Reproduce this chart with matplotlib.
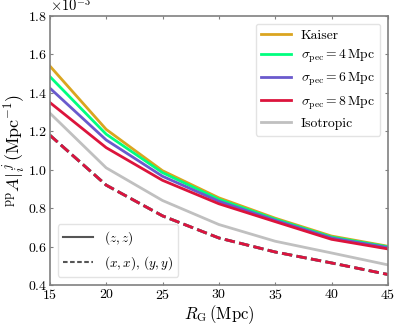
import matplotlib
matplotlib.use('Agg')
import matplotlib.pyplot as plt
from matplotlib.lines import Line2D

plt.rcParams['font.family'] = 'serif'
plt.rcParams['font.serif'] = ['cmr10']
plt.rcParams['mathtext.fontset'] = 'cm'
plt.rcParams['axes.formatter.use_mathtext'] = True
plt.rcParams['axes.unicode_minus'] = False

# Smoothing scale R_G (Mpc)
r_g = [15, 20, 25, 30, 35, 40, 45]

# (z,z) component, units of 1e-3 Mpc^-1
kaiser = [1.540, 1.210, 0.995, 0.854, 0.748, 0.655, 0.602]
sig4 = [1.485, 1.185, 0.985, 0.846, 0.743, 0.650, 0.599]
sig6 = [1.425, 1.155, 0.966, 0.836, 0.737, 0.645, 0.595]
sig8 = [1.350, 1.115, 0.945, 0.823, 0.730, 0.638, 0.588]
isotropic = [1.295, 1.010, 0.840, 0.715, 0.628, 0.567, 0.505]

# (x,x), (y,y) components
transverse = [1.180, 0.920, 0.760, 0.645, 0.572, 0.515, 0.455]

labels = ['Kaiser', r'$\sigma_{\rm pec} = 4\,\mathrm{Mpc}$', r'$\sigma_{\rm pec} = 6\,\mathrm{Mpc}$',
          r'$\sigma_{\rm pec} = 8\,\mathrm{Mpc}$', 'Isotropic']
colors = ['goldenrod', 'springgreen', 'slateblue', 'crimson', 'silver']

fig = plt.figure(figsize=(3.99, 3.28), dpi=100)
ax = fig.add_axes([0.125, 0.131, 0.847, 0.82])

series = [kaiser, sig4, sig6, sig8, isotropic]
handles = []
for s, lab, c in zip(series, labels, colors):
    h, = ax.plot(r_g, [v * 1e-3 for v in s], color=c, lw=2, label=lab)
    handles.append(h)
# transverse components coincide for the anisotropic models
for c in colors[:4]:
    ax.plot(r_g, [v * 1e-3 for v in transverse], color=c, lw=2, ls='--')

ax.set_xlim(15, 45)
ax.set_ylim(0.4e-3, 1.8e-3)
ax.set_xticks([15, 20, 25, 30, 35, 40, 45])
ax.ticklabel_format(axis='y', style='sci', scilimits=(-3, -3))
ax.yaxis.get_offset_text().set_fontsize(10.5)
ax.tick_params(labelsize=10, direction='in', length=2, pad=2, top=True, right=True, color='gray')
for sp in ax.spines.values():
    sp.set_color('gray')
    sp.set_linewidth(1.2)

ax.set_xlabel(r'$R_{\rm G}\,(\mathrm{Mpc})$', fontsize=12, labelpad=1)
ax.set_ylabel(r'${}^{\rm pp}A|_i^{\,j}\,(\mathrm{Mpc}^{-1})$', fontsize=13, labelpad=0)

leg1 = ax.legend(handles=handles, loc='upper right', fontsize=9.8, frameon=True,
                 handlelength=2.2, handletextpad=0.7, labelspacing=0.45, borderaxespad=0.55)
leg1.get_frame().set_edgecolor('#dddddd')
ax.add_artist(leg1)

style_handles = [Line2D([], [], color='#555555', lw=1.5, ls='-'),
                 Line2D([], [], color='#555555', lw=1.5, ls=(0, (2.2, 1.2)))]
leg2 = ax.legend(style_handles, [r'$(z,z)$', r'$(x,x),\,(y,y)$'], loc='lower left',
                 fontsize=9.5, handlelength=2.3, handletextpad=0.8, labelspacing=0.5,
                 borderaxespad=0.6)
leg2.get_frame().set_edgecolor('#dddddd')

fig.savefig('out.png', dpi=100)
